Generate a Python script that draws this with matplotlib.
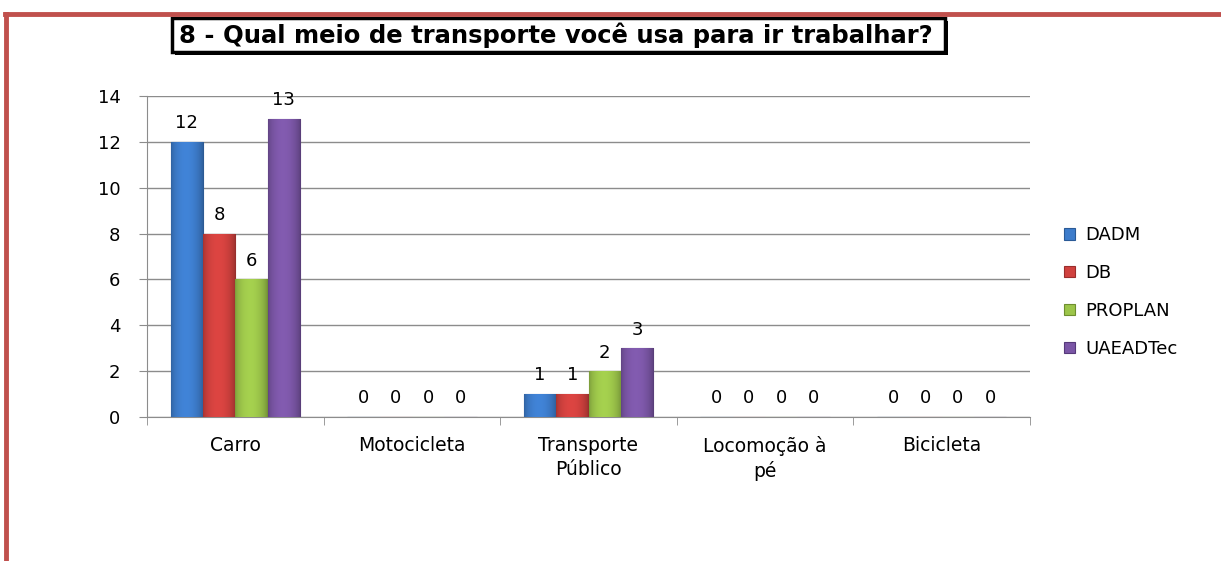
import matplotlib
matplotlib.use("Agg")
import matplotlib.pyplot as plt
from matplotlib.patches import Rectangle
from matplotlib.colors import to_rgb
import numpy as np

plt.rcParams['font.family'] = ['DejaVu Sans']

categories = ["Carro", "Motocicleta", "Transporte\nPúblico", "Locomoção à\npé", "Bicicleta"]
series_names = ["DADM", "DB", "PROPLAN", "UAEADTec"]
dadm = [12, 0, 1, 0, 0]
db = [8, 0, 1, 0, 0]
proplan = [6, 0, 2, 0, 0]
uaeadtec = [13, 0, 3, 0, 0]
values = [dadm, db, proplan, uaeadtec]
colors = ["#3D7CCB", "#D0413E", "#9CC54A", "#7B56A6"]
edges = ["#2A5A96", "#9A2E2C", "#6E8E30", "#56397A"]
title = "8 - Qual meio de transporte você usa para ir trabalhar?"

W, H = 1221, 561
fig = plt.figure(figsize=(W / 100, H / 100), dpi=100)
fig.patch.set_facecolor("white")

# red page border
fig.add_artist(plt.Line2D([5 / W, 1.0], [1 - 14 / H, 1 - 14 / H], color="#C0504D", lw=3.5, transform=fig.transFigure))
fig.add_artist(plt.Line2D([6 / W, 6 / W], [1 - 14 / H, 0.0], color="#C0504D", lw=3.5, transform=fig.transFigure))

ax = fig.add_axes([147 / W, 1 - 417 / H, (1030 - 147) / W, (417 - 96) / H])
x = np.arange(len(categories))
bw = 0.183
offsets = (np.arange(4) - 1.5) * bw


def shade_grad(base):
    r, g, b = to_rgb(base)
    t = np.linspace(0, 1, 64)
    f = 0.78 + 0.32 * np.sin(np.pi * t) ** 0.6 - 0.08 * t
    img = np.clip(np.stack([r * f, g * f, b * f], axis=-1), 0, 1)
    return img[np.newaxis, :, :]


for i, (name, vals) in enumerate(zip(series_names, values)):
    bars = ax.bar(x + offsets[i], vals, bw, color=colors[i], edgecolor=edges[i], linewidth=0.8, label=name, zorder=3)
    grad = shade_grad(colors[i])
    for rect in bars:
        if rect.get_height() > 0:
            im = ax.imshow(grad, extent=[rect.get_x(), rect.get_x() + rect.get_width(), 0, rect.get_height()],
                           aspect="auto", zorder=3.5, interpolation="bilinear")
            im.set_clip_path(rect)
    for xi, v in zip(x + offsets[i], vals):
        ax.text(xi, v + 0.42, str(v), ha="center", va="bottom", fontsize=13, color="black", zorder=4)

ax.set_xlim(-0.5, len(categories) - 0.5)
ax.set_ylim(0, 14)
ax.set_yticks(range(0, 15, 2))
ax.yaxis.grid(True, color="#8c8c8c", lw=1, zorder=0)
ax.set_axisbelow(True)
for s in ["top", "right"]:
    ax.spines[s].set_visible(False)
ax.spines["left"].set_color("#8c8c8c")
ax.spines["bottom"].set_color("#8c8c8c")
ax.set_xticks(x)
ax.set_xticklabels(categories, fontsize=13.5, linespacing=1.3)
ax.tick_params(axis="x", length=0, pad=14)
ax.set_xticks(np.arange(-0.5, len(categories), 1.0), minor=True)
ax.tick_params(axis="x", which="minor", length=6, color="#8c8c8c", direction="out")
ax.tick_params(axis="y", labelsize=13, length=6, color="#8c8c8c", pad=13)

leg = fig.legend(loc="upper left", bbox_to_anchor=(1048 / W, 1 - 210 / H), frameon=False,
                 fontsize=13, handlelength=0.6, handleheight=0.6, handletextpad=0.55, labelspacing=1.1)

# title box with shadow
tx0, tx1, ty0, ty1 = 172, 945, 18, 52
fig.add_artist(Rectangle((tx0 / W + 3 / W, 1 - (ty1 + 3) / H), (tx1 - tx0) / W, (ty1 - ty0) / H,
                         transform=fig.transFigure, facecolor="black", edgecolor="black", lw=0))
fig.add_artist(Rectangle((tx0 / W, 1 - ty1 / H), (tx1 - tx0) / W, (ty1 - ty0) / H,
                         transform=fig.transFigure, facecolor="white", edgecolor="black", lw=2.5))
fig.text(179 / W, 1 - (ty0 + ty1) / 2 / H, title, ha="left", va="center",
         fontsize=17.5, fontweight="bold", family=["DejaVu Sans"])

fig.savefig("out.png", dpi=100)
